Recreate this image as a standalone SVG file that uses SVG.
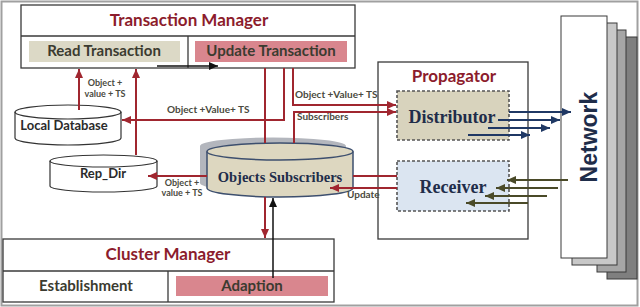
<svg xmlns="http://www.w3.org/2000/svg" width="640" height="307" viewBox="0 0 640 307">
<defs>
<style>
.box{fill:#fff;stroke:#3a3a3a;stroke-width:1.3}
.title{font-family:Lato,"Liberation Sans",sans-serif;font-weight:bold;font-size:17px;fill:#8c1c2c;text-anchor:middle}
.sub{font-family:Lato,"Liberation Sans",sans-serif;font-weight:bold;font-size:15px;fill:#3b3b30;text-anchor:middle}
.db{font-family:Lato,"Liberation Sans",sans-serif;font-weight:bold;font-size:13px;fill:#2b2b2b;text-anchor:middle}
.serif{font-family:"Liberation Serif","DejaVu Serif",serif;font-weight:bold;fill:#1f2d4a;text-anchor:middle}
.lbl{font-family:Lato,"Liberation Sans",sans-serif;font-weight:bold;font-size:10px;fill:#4a4a40}
.lbls{font-family:Lato,"Liberation Sans",sans-serif;font-weight:bold;font-size:9px;fill:#4a4a40;text-anchor:middle}
.red{fill:none;stroke:#a0262f;stroke-width:2}
.blue{fill:none;stroke:#1f3864;stroke-width:2}
.olive{fill:none;stroke:#4a4a28;stroke-width:2}
.blk{fill:none;stroke:#111;stroke-width:1.5}
.dash{stroke:#555;stroke-width:1.6;stroke-dasharray:3 2}
.cyl{fill:#fff;stroke:#333;stroke-width:1.2}
</style>
<marker id="ar" markerUnits="userSpaceOnUse" markerWidth="9" markerHeight="8" refX="9" refY="4" orient="auto"><path d="M0,0 L9,4 L0,8 z" fill="#a0262f"/></marker>
<marker id="ab" markerUnits="userSpaceOnUse" markerWidth="9" markerHeight="8" refX="9" refY="4" orient="auto"><path d="M0,0 L9,4 L0,8 z" fill="#1f3864"/></marker>
<marker id="ao" markerUnits="userSpaceOnUse" markerWidth="9" markerHeight="8" refX="9" refY="4" orient="auto"><path d="M0,0 L9,4 L0,8 z" fill="#4a4a28"/></marker>
<marker id="ak" markerUnits="userSpaceOnUse" markerWidth="9" markerHeight="8" refX="9" refY="4" orient="auto"><path d="M0,0 L9,4 L0,8 z" fill="#111"/></marker>
</defs>
<rect x="1.5" y="1.5" width="636" height="304" fill="#fff" stroke="#a0a0a0" stroke-width="2"/>

<g id="transaction-manager">
<rect class="box" x="21" y="5" width="334" height="63"/>
<line x1="21" y1="36" x2="355" y2="36" stroke="#3a3a3a" stroke-width="1.3"/>
<line x1="188" y1="36" x2="188" y2="68" stroke="#3a3a3a" stroke-width="1.3"/>
<text class="title" x="189" y="26">Transaction Manager</text>
<g id="read-transaction"><rect x="29" y="41" width="151" height="21" fill="#dcd9c6"/><text class="sub" x="104" y="56">Read Transaction</text></g>
<g id="update-transaction"><rect x="195" y="41" width="152" height="21" fill="#d9868e"/><text class="sub" x="271" y="56">Update Transaction</text></g>
</g>

<g id="cluster-manager">
<rect class="box" x="3" y="239" width="331" height="63"/>
<line x1="3" y1="271" x2="334" y2="271" stroke="#3a3a3a" stroke-width="1.3"/>
<line x1="168" y1="271" x2="168" y2="302" stroke="#3a3a3a" stroke-width="1.3"/>
<text class="title" x="168" y="260">Cluster Manager</text>
<g id="establishment"><text class="sub" x="86" y="291">Establishment</text></g>
<g id="adaption"><rect x="176" y="276" width="152" height="20" fill="#d9868e"/><text class="sub" x="252" y="291">Adaption</text></g>
</g>

<g id="propagator">
<rect class="box" x="378" y="62" width="150" height="177"/>
<text class="title" x="454" y="82">Propagator</text>
<g id="distributor"><rect class="dash" x="397" y="91" width="112" height="49" fill="#d8d3bd"/><text class="serif" x="452" y="123" font-size="18">Distributor</text></g>
<g id="receiver"><rect class="dash" x="397" y="161" width="112" height="50" fill="#dbe5f1"/><text class="serif" x="453" y="193" font-size="18">Receiver</text></g>
</g>

<g id="network">
<rect x="607" y="37" width="30" height="242" fill="#7f7f7f" stroke="#3a3a3a"/>
<rect x="597" y="30" width="29" height="242" fill="#a6a6a6" stroke="#3a3a3a"/>
<rect x="572" y="23" width="45" height="242" fill="#c8c8c8" stroke="#3a3a3a"/>
<rect x="561" y="16" width="46" height="242" fill="#fff" stroke="#3a3a3a"/>
<text transform="translate(597,137) rotate(-90)" text-anchor="middle" font-family="'Liberation Sans',Arial,sans-serif" font-weight="bold" font-size="23" fill="#1f2d4a">Network</text>
</g>

<g id="local-database">
<path class="cyl" d="M15,112 A53,7 0 0 1 121,112 L121,138 A53,7 0 0 1 15,138 Z"/>
<path d="M15,112 A53,7 0 0 0 121,112" fill="none" stroke="#333" stroke-width="1.2"/>
<text class="db" x="64" y="130">Local Database</text>
</g>

<g id="rep-dir">
<path class="cyl" d="M50,161 A53.5,6 0 0 1 157,161 L157,186 A53.5,6 0 0 1 50,186 Z"/>
<path d="M50,161 A53.5,6 0 0 0 157,161" fill="none" stroke="#333" stroke-width="1.2"/>
<text class="db" x="103" y="178">Rep_Dir</text>
</g>

<g id="objects-subscribers">
<path d="M200,146 A73,8.5 0 0 1 346,146 L346,183 A73,9 0 0 1 200,183 Z" fill="#b3b6bd"/>
<path d="M207,151.5 A73,8.5 0 0 1 353,151.5 L353,188 A73,9 0 0 1 207,188 Z" fill="#ddd7c0" stroke="#3d4f6e" stroke-width="1.5"/>
<path d="M207,151.5 A73,8.5 0 0 0 353,151.5" fill="none" stroke="#3d4f6e" stroke-width="1.5"/>
<text class="serif" x="280" y="182" font-size="14.5">Objects Subscribers</text>
</g>

<g id="connectors">
<line class="blk" x1="157" y1="66" x2="218" y2="66" marker-end="url(#ak)"/>
<line class="red" x1="79" y1="110" x2="79" y2="69" marker-end="url(#ar)"/>
<line class="red" x1="136" y1="155" x2="136" y2="69" marker-end="url(#ar)"/>
<text class="lbls" x="105" y="86">Object +</text>
<text class="lbls" x="105" y="97">value + TS</text>
<polyline class="red" points="284,68 284,120 122,120" marker-end="url(#ar)"/>
<text class="lbl" x="167" y="113">Object +Value+ TS</text>
<polyline class="red" points="293,68 293,105 396,105" marker-end="url(#ar)"/>
<text class="lbl" x="295" y="98">Object +Value+ TS</text>
<polyline class="red" points="294,143 294,112 396,112" marker-end="url(#ar)"/>
<text class="lbl" x="297" y="120">Subscribers</text>
<line class="red" x1="265" y1="68" x2="265" y2="143"/>
<line class="red" x1="265" y1="197" x2="265" y2="238" marker-end="url(#ar)"/>
<line class="red" x1="397" y1="176" x2="353" y2="176"/>
<line class="red" x1="207" y1="176" x2="148" y2="176" marker-end="url(#ar)"/>
<text class="lbls" x="182" y="186">Object +</text>
<text class="lbls" x="182" y="196">value + TS</text>
<line class="red" x1="397" y1="188" x2="330" y2="188" marker-end="url(#ar)"/>
<text class="lbl" x="347" y="198">Update</text>
<line class="blk" x1="273" y1="278" x2="273" y2="198" marker-end="url(#ak)"/>
<line class="blue" x1="509" y1="112" x2="571" y2="112" marker-end="url(#ab)"/>
<line class="blue" x1="498" y1="120" x2="560" y2="120" marker-end="url(#ab)"/>
<line class="blue" x1="488" y1="128" x2="550" y2="128" marker-end="url(#ab)"/>
<line class="blue" x1="468" y1="135" x2="530" y2="135" marker-end="url(#ab)"/>
<line class="olive" x1="568" y1="180" x2="507" y2="180" marker-end="url(#ao)"/>
<line class="olive" x1="558" y1="188" x2="496" y2="188" marker-end="url(#ao)"/>
<line class="olive" x1="547" y1="196" x2="485" y2="196" marker-end="url(#ao)"/>
<line class="olive" x1="528" y1="203" x2="466" y2="203" marker-end="url(#ao)"/>
</g>
</svg>
